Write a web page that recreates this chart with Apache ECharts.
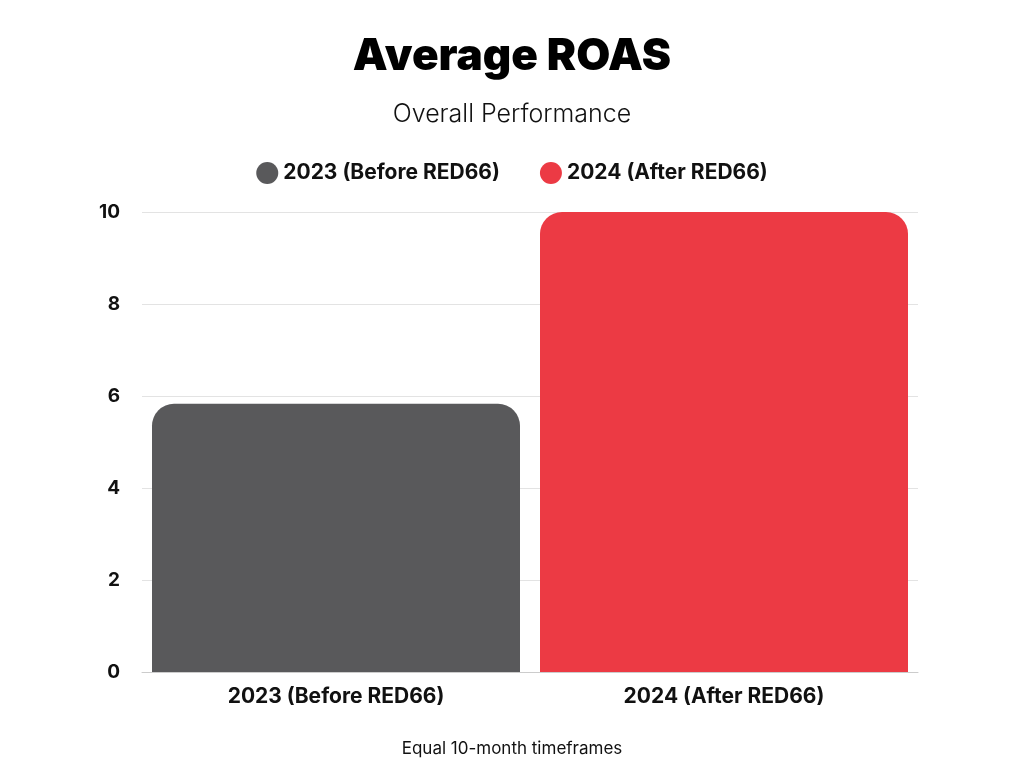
<!DOCTYPE html>
<html><head><meta charset="utf-8">
<script src="https://cdn.jsdelivr.net/npm/echarts@6/dist/echarts.min.js"></script>
<style>html,body{margin:0;padding:0;background:#fff}#c{width:1024px;height:768px}</style>
</head><body><div id="c"></div>
<script>
const categories = ['2023 (Before RED66)', '2024 (After RED66)'];
const seriesNames = ['2023 (Before RED66)', '2024 (After RED66)'];
const values2023 = [5.83, null];
const values2024 = [null, 10];
const colors = ['#59595b', '#ec3a44'];
const font = 'Inter, "Noto Sans", sans-serif';
const chart = echarts.init(document.getElementById('c'));
chart.setOption({
  backgroundColor: '#fff',
  title: [
    {text: 'Average ROAS', left: 'center', top: 30, textStyle: {fontFamily: font, fontSize: 44, fontWeight: 900, color: '#000'}},
    {text: 'Overall Performance', left: 'center', top: 97, textStyle: {fontFamily: font, fontSize: 25, fontWeight: 300, color: '#111'}},
    {text: 'Equal 10-month timeframes', left: 'center', top: 735, textStyle: {fontFamily: font, fontSize: 17, fontWeight: 400, color: '#111'}}
  ],
  legend: {top: 157, left: 'center', itemGap: 40, icon: 'circle', itemWidth: 22, itemHeight: 22,
    textStyle: {fontFamily: font, fontSize: 21, fontWeight: 'bold', color: '#111'},
    data: seriesNames},
  grid: {left: 142, right: 106, top: 212, bottom: 96},
  xAxis: {type: 'category', data: categories,
    axisLine: {lineStyle: {color: '#ccc'}}, axisTick: {show: false},
    axisLabel: {fontFamily: font, fontSize: 21, fontWeight: 'bold', color: '#111', margin: 14}},
  yAxis: {type: 'value', min: 0, max: 10, interval: 2,
    axisLabel: {fontFamily: font, fontSize: 19, fontWeight: 'bold', color: '#111', margin: 22},
    splitLine: {lineStyle: {color: '#e3e3e3'}}},
  series: [
    {name: seriesNames[0], type: 'bar', data: values2023, barWidth: 368, barGap: '-100%',
      itemStyle: {color: colors[0], borderRadius: [22, 22, 0, 0]}},
    {name: seriesNames[1], type: 'bar', data: values2024, barWidth: 368,
      itemStyle: {color: colors[1], borderRadius: [22, 22, 0, 0]}}
  ]
});
</script></body></html>
